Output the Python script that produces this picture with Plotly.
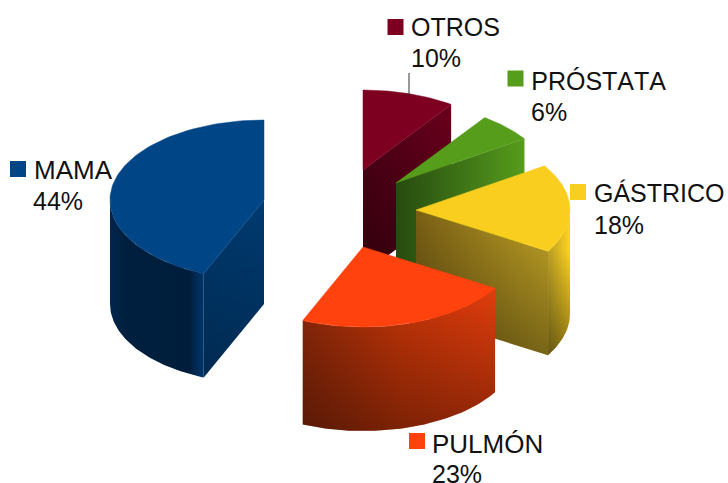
import math
import plotly.graph_objects as go

# Data (clockwise from 12 o'clock)
categories = ["OTROS", "PRÓSTATA", "GÁSTRICO", "PULMÓN", "MAMA"]
values = [9.7, 6.0, 17.9, 22.8, 43.6]

# Style / layout
top_colors = ["#7e0021", "#579d1c", "#f9ce1f", "#ff420e", "#004586"]
apex_x = [363, 396, 416, 363, 264]
apex_y = [170, 183, 210, 247, 200]
marker_x = [395.5, 515.5, 578, 417, 18]
marker_y = [27, 78.5, 192, 441, 169]
label_x = [411, 534, 594, 432, 34]
pct_x = [411, 531, 594, 432, 33]
label_y = [27, 81, 193, 444, 170]
pct_y = [58, 112, 225, 474, 201]
label_size = [25, 25, 25, 26, 26]
RX, RY, DEPTH = 154, 80, 104
DRAW_ORDER = [4, 0, 1, 2, 3]

# wall shading: horizontal colour ramp, plus a vertical darkening overlay
# each entry: (ramp [(x, colour)...], (y_start, y_stop, max_alpha) or None)
cut_style = {
    0: ([(363, "#500016"), (450, "#6a001c")], (105, 274, 0.40)),
    1: ([(396, "#264a10"), (526, "#579d1c")], None),
    2: ([(416, "#7a6015"), (548, "#c4a526")], (210, 353, 0.38)),
    4: ([(204, "#00386c"), (264, "#003a70")], (200, 377, 0.25)),
}
curve_style = {
    2: ([(548, "#b89c24"), (570, "#ffd320")], (250, 355, 0.45)),
    3: ([(302, "#8c280a"), (400, "#c43508"), (493, "#e03c0c")], (290, 430, 0.37)),
    4: ([(110, "#00264c"), (125, "#001f3e"), (190, "#001e3c"), (199, "#002f5e"), (204, "#003566")], None),
}

fig = go.Figure()


def point(cx, cy, th):
    r = math.radians(th)
    return cx + RX * math.sin(r), cy - RY * math.cos(r)


def arc_pts(cx, cy, a0, a1, n=60):
    return [point(cx, cy, a0 + (a1 - a0) * k / n) for k in range(n + 1)]


def wall(top_pts, style):
    ramp, overlay = style
    xs = [p[0] for p in top_pts] + [p[0] for p in reversed(top_pts)]
    ys = [p[1] for p in top_pts] + [p[1] + DEPTH for p in reversed(top_pts)]
    xs.append(xs[0])
    ys.append(ys[0])
    x0, x1 = ramp[0][0], ramp[-1][0]
    scale = [[(x - x0) / (x1 - x0), c] for x, c in ramp]
    fig.add_trace(go.Scatter(x=xs, y=ys, mode="lines", line=dict(width=0), fill="toself",
                             hoverinfo="skip", showlegend=False,
                             fillgradient=dict(type="horizontal", start=x0, stop=x1, colorscale=scale)))
    if overlay:
        y0, y1, alpha = overlay
        fig.add_trace(go.Scatter(x=xs, y=ys, mode="lines", line=dict(width=0), fill="toself",
                                 hoverinfo="skip", showlegend=False,
                                 fillgradient=dict(type="vertical", start=y0, stop=y1,
                                                   colorscale=[[0, "rgba(0,0,0,0)"],
                                                               [1, f"rgba(0,0,0,{alpha})"]])))


total = sum(values)
edges = [0]
for v in values:
    edges.append(edges[-1] + v / total * 360)

for i in DRAW_ORDER:
    a0, a1 = edges[i], edges[i + 1]
    cx, cy = apex_x[i], apex_y[i]
    if 0 < a1 < 180:
        wall([(cx, cy), point(cx, cy, a1)], cut_style[i])
    if 180 < a0 < 360:
        wall([point(cx, cy, a0), (cx, cy)], cut_style[i])
    lo, hi = max(a0, 90), min(a1, 270)
    if hi > lo:
        wall(arc_pts(cx, cy, lo, hi), curve_style[i])
    arc = arc_pts(cx, cy, a0, a1, 80)
    xs = [cx] + [p[0] for p in arc] + [cx]
    ys = [cy] + [p[1] for p in arc] + [cy]
    fig.add_trace(go.Scatter(x=xs, y=ys, mode="lines", line=dict(width=0.5, color=top_colors[i]),
                             fill="toself", fillcolor=top_colors[i],
                             hoverinfo="skip", showlegend=False))

# leader line for OTROS
fig.add_trace(go.Scatter(x=[409, 409], y=[73, 95], mode="lines", line=dict(color="#333333", width=1),
                         hoverinfo="skip", showlegend=False))

# legend-style markers
fig.add_trace(go.Scatter(x=marker_x, y=marker_y, mode="markers",
                         marker=dict(symbol="square", size=16, color=top_colors, line=dict(width=0)),
                         hoverinfo="skip", showlegend=False))

annotations = []
for i, name in enumerate(categories):
    pct = f"{round(values[i])}%"
    for txt, xx, yy, sz in ((name, label_x[i], label_y[i], label_size[i]), (pct, pct_x[i], pct_y[i], 25)):
        annotations.append(dict(x=xx, y=yy, text=txt, xref="x", yref="y", showarrow=False,
                                xanchor="left", yanchor="middle", borderpad=0, borderwidth=0,
                                font=dict(family="Liberation Sans", size=sz, color="#111111")))

fig.update_layout(
    width=728, height=483, margin=dict(l=0, r=0, t=0, b=0),
    paper_bgcolor="white", plot_bgcolor="white", showlegend=False,
    xaxis=dict(range=[0, 728], visible=False, fixedrange=True),
    yaxis=dict(range=[483, 0], visible=False, fixedrange=True),
    annotations=annotations,
)
fig.write_html("out.html", config={"displayModeBar": False},
               post_script="document.body.style.margin='0';"
                           "var s=document.createElement('style');"
                           "s.textContent='text{font-kerning:none !important;}';"
                           "document.head.appendChild(s);")
